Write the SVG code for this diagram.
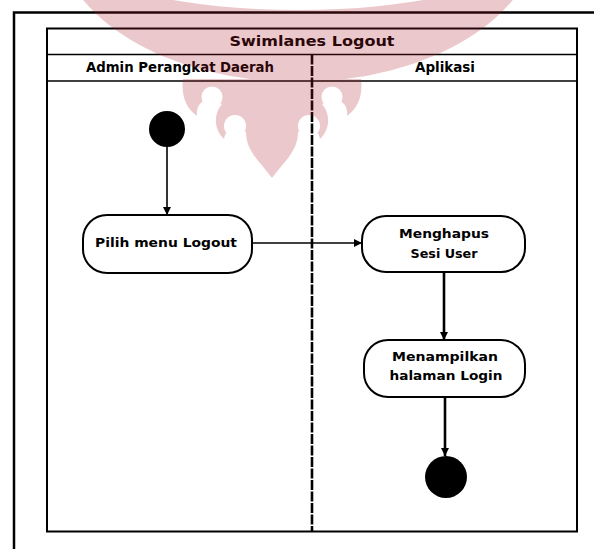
<svg xmlns="http://www.w3.org/2000/svg" width="594" height="549" viewBox="0 0 594 549">
  <style>
    .frame { fill: none; stroke: #000; stroke-width: 2.5; }
    .lane { fill: none; stroke: #000; stroke-width: 2; }
    .sep { stroke: #000; stroke-width: 1.6; }
    .div { stroke: #000; stroke-width: 2.6; stroke-dasharray: 10 1.5; }
    .act { fill: #fff; stroke: #000; stroke-width: 2; }
    .hdr { font-family: "DejaVu Sans", "Liberation Sans", sans-serif; font-weight: bold; font-size: 13.5px; fill: #000; text-anchor: middle; }
    .lbl { font-family: "DejaVu Sans", "Liberation Sans", sans-serif; font-weight: bold; font-size: 13px; fill: #000; text-anchor: middle; }
    .edge { fill: none; stroke: #000; stroke-width: 1.6; }
    .edge.thick { stroke-width: 2.6; }
    .dot { fill: #000; }
  </style>
  <defs>
    <marker id="arrow" viewBox="0 0 10 10" refX="10" refY="5" markerWidth="8" markerHeight="8" markerUnits="userSpaceOnUse" orient="auto">
      <path d="M0,0 L10,5 L0,10 Z" fill="#000"/>
    </marker>
    <mask id="wmMask" maskUnits="userSpaceOnUse" x="0" y="0" width="594" height="549">
      <ellipse cx="298" cy="-70" rx="242" ry="152" fill="#fff"/>
      <ellipse cx="298" cy="-40" rx="208" ry="50" fill="#000"/>
      <path d="M183,79 C181,96 186,108 197,116 C196,106 201,100 210,100 L222,104 C213,114 214,130 224,139 C225,132 230,128 238,128 L246,132 C246,150 258,160 272,178 C286,160 298,150 298,132 L306,128 C314,128 319,132 320,139 C330,130 331,114 322,104 L334,100 C343,100 348,106 347,116 C358,108 363,96 361,79 Z" fill="#fff"/>
      <circle cx="212" cy="97" r="10.5" fill="#000"/>
      <circle cx="332" cy="97" r="10.5" fill="#000"/>
      <circle cx="235" cy="126" r="11" fill="#000"/>
      <circle cx="309" cy="126" r="11" fill="#000"/>
    </mask>
  </defs>

  <rect x="0" y="0" width="594" height="549" fill="#fff"/>

  <!-- outer frame (partially visible) -->
  <path class="frame" d="M14,549 L14,12.5 L594,12.5"/>

  <!-- swimlane pool -->
  <g id="pool">
    <rect class="lane" x="47" y="28.5" width="530" height="503"/>
    <line class="sep" x1="47" y1="54.5" x2="577" y2="54.5"/>
    <line class="sep" x1="47" y1="81" x2="577" y2="81"/>
    <line class="div" x1="312" y1="54.5" x2="312" y2="531.5"/>
    <text class="hdr" x="312" y="46" textLength="165" lengthAdjust="spacingAndGlyphs">Swimlanes Logout</text>
    <text class="hdr" x="180" y="72" textLength="188" lengthAdjust="spacingAndGlyphs">Admin Perangkat Daerah</text>
    <text class="hdr" x="445" y="72" textLength="60" lengthAdjust="spacingAndGlyphs">Aplikasi</text>
  </g>

  <!-- connectors -->
  <g id="connectors">
    <line class="edge" x1="167" y1="146" x2="167" y2="215" marker-end="url(#arrow)"/>
    <line class="edge" x1="252" y1="243" x2="362" y2="243" marker-end="url(#arrow)"/>
    <line class="edge thick" x1="444" y1="272" x2="444" y2="340" marker-end="url(#arrow)"/>
    <line class="edge thick" x1="445" y1="397" x2="445" y2="456" marker-end="url(#arrow)"/>
  </g>

  <g id="start">
    <circle class="dot" cx="167" cy="129" r="18"/>
  </g>

  <g id="pilih-menu-logout">
    <rect class="act" x="83" y="215" width="169" height="58" rx="24" ry="24"/>
    <text class="lbl" x="166" y="247" textLength="142" lengthAdjust="spacingAndGlyphs">Pilih menu Logout</text>
  </g>

  <g id="menghapus-sesi-user">
    <rect class="act" x="362" y="216" width="163" height="56" rx="24" ry="24"/>
    <text class="lbl" x="444" y="238" textLength="90" lengthAdjust="spacingAndGlyphs">Menghapus</text>
    <text class="lbl" x="444" y="258" textLength="67" lengthAdjust="spacingAndGlyphs">Sesi User</text>
  </g>

  <g id="menampilkan-halaman-login">
    <rect class="act" x="364" y="340" width="161" height="57" rx="24" ry="24"/>
    <text class="lbl" x="445" y="361" textLength="106" lengthAdjust="spacingAndGlyphs">Menampilkan</text>
    <text class="lbl" x="446" y="380" textLength="113" lengthAdjust="spacingAndGlyphs">halaman Login</text>
  </g>

  <g id="end">
    <circle class="dot" cx="446" cy="477" r="21"/>
  </g>

  <!-- watermark overlay -->
  <g id="watermark" opacity="0.24">
    <rect x="0" y="0" width="594" height="549" fill="#b0202a" mask="url(#wmMask)"/>
  </g>
</svg>
